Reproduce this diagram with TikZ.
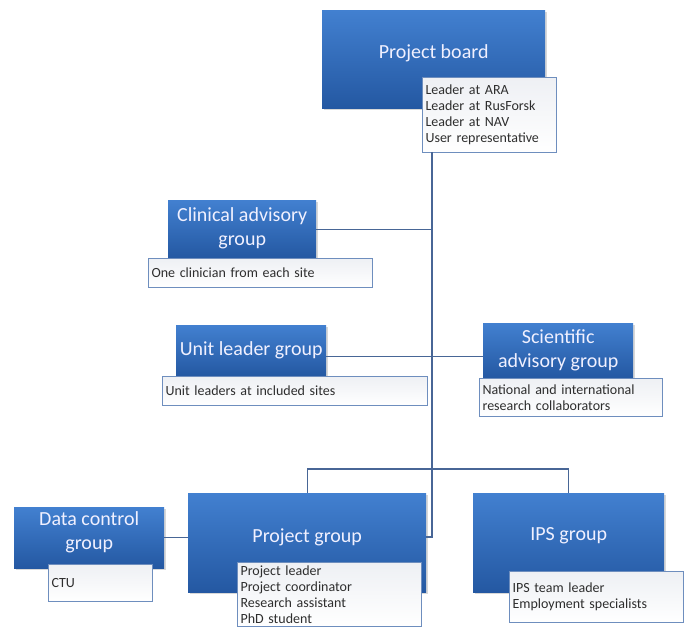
\documentclass[tikz,border=0pt]{standalone}
\usepackage{fontspec}
\setmainfont{Carlito}
\usetikzlibrary{shadows}
\definecolor{boxtop}{RGB}{66,128,208}
\definecolor{boxbot}{RGB}{36,88,162}
\definecolor{lnc}{RGB}{72,102,150}
\definecolor{wbd}{RGB}{110,142,190}
\definecolor{wtop}{RGB}{238,240,244}
\tikzset{
  bluebox/.style={anchor=north west, top color=boxtop, bottom color=boxbot, draw=none,
    inner sep=0pt, drop shadow={opacity=0.3, shadow xshift=1.5pt, shadow yshift=-1.5pt}},
  title/.style={text=white!94!blue, font=\fontsize{20}{24}\selectfont, align=center, inner sep=0pt},
  whitebox/.style={anchor=north west, draw=wbd, line width=1.1pt, top color=wtop, bottom color=white,
    text=black!82, font=\fontsize{14}{16}\selectfont, align=left, inner xsep=3pt, inner ysep=0pt},
  conn/.style={draw=lnc, line width=1.3pt}
}
\begin{document}
\begin{tikzpicture}[x=1pt,y=-1pt]
\useasboundingbox (0,0) rectangle (689,628);
\fill[white] (0,0) rectangle (689,628);

% Project board
\node[bluebox, minimum width=223pt, minimum height=98pt] (pb) at (322,10) {};
\node[title] (pbt) at ([yshift=6pt]pb.center) {Project board};
\node[whitebox, minimum width=134pt, minimum height=75pt, text width=128pt] (pbw) at (422,77)
  {Leader at ARA\\Leader at RusForsk\\Leader at NAV\\User representative};

% Clinical advisory group
\node[bluebox, minimum width=148pt, minimum height=58pt] (cag) at (168,200) {};
\node[title] (cagt) at ([yshift=1pt]cag.center) {Clinical advisory\\group};
\node[whitebox, minimum width=224pt, minimum height=29pt, text width=218pt] (cagw) at (148,258)
  {One clinician from each site};

% Unit leader group
\node[bluebox, minimum width=150pt, minimum height=51pt] (ulg) at (176,325) {};
\node[title] (ulgt) at (ulg.center) {Unit leader group};
\node[whitebox, minimum width=265pt, minimum height=29pt, text width=259pt] (ulgw) at (162,376)
  {Unit leaders at included sites};

% Scientific advisory group
\node[bluebox, minimum width=150pt, minimum height=55pt] (sag) at (483,323) {};
\node[title] (sagt) at (sag.center) {Scientific\\advisory group};
\node[whitebox, minimum width=183pt, minimum height=38pt, text width=177pt] (sagw) at (479,378)
  {National and international\\research collaborators};

% Data control group
\node[bluebox, minimum width=150pt, minimum height=61pt] (dcg) at (14,507) {};
\node[title] (dcgt) at ([yshift=5pt]dcg.center) {Data control\\group};
\node[whitebox, minimum width=104pt, minimum height=37pt, text width=98pt] (dcgw) at (48,564)
  {CTU};

% Project group
\node[bluebox, minimum width=238pt, minimum height=99pt] (pg) at (188,493) {};
\node[title] (pgt) at ([yshift=5pt]pg.center) {Project group};
\node[whitebox, minimum width=184pt, minimum height=64pt, text width=178pt] (pgw) at (237,562)
  {Project leader\\Project coordinator\\Research assistant\\PhD student};

% IPS group
\node[bluebox, minimum width=191pt, minimum height=99pt] (ips) at (473,493) {};
\node[title] (ipst) at ([yshift=7pt]ips.center) {IPS group};
\node[whitebox, minimum width=174pt, minimum height=51pt, text width=168pt] (ipsw) at (509,571)
  {IPS team leader\\Employment specialists};

% connectors
\coordinate (spineT) at (432,152);
\coordinate (spineB) at (432,537);
\draw[conn] (spineT) -- (spineB) -- (spineB -| pg.east);
\draw[conn] (cag.east) -- (cag.east -| spineT);
\draw[conn] ([yshift=-6pt]ulg.east) -- ([yshift=-6pt]ulg.east -| sag.west);
\draw[conn] (pg.north) -- ++(0,-24) -| (ips.north);
\draw[conn] (dcg.east) -- (dcg.east -| pg.west);
\end{tikzpicture}
\end{document}
